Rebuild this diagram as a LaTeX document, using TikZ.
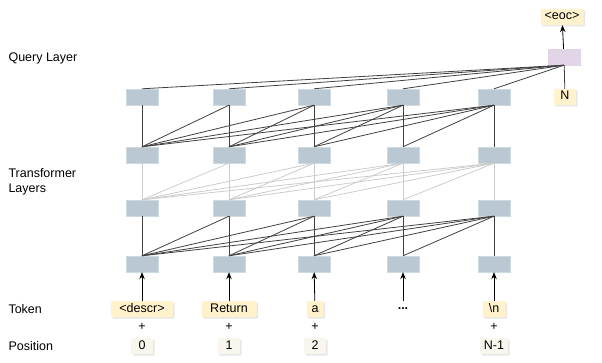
\documentclass[tikz,border=0pt]{standalone}
\usepackage{fontspec}
\setmainfont{Liberation Sans}
\usetikzlibrary{arrows.meta,shadows}

\definecolor{cellgray}{HTML}{BAC8D3}
\definecolor{querypurple}{HTML}{E1D5E7}
\definecolor{tokyellow}{HTML}{FFF2CC}
\definecolor{poscream}{HTML}{F9F7ED}
\definecolor{linedark}{HTML}{404040}
\definecolor{linelight}{HTML}{CCCCCC}

\begin{document}
\begin{tikzpicture}[
  x=1pt, y=-1pt,
  every node/.style={font=\fontsize{12.5}{15}\selectfont},
  cell/.style={rectangle, fill=cellgray, draw=cellgray!70!white, minimum width=32pt, minimum height=16pt, inner sep=0pt},
  query/.style={cell, fill=querypurple, draw=querypurple},
  tokbox/.style={rectangle, fill=tokyellow, minimum height=16pt, inner xsep=3pt, inner ysep=0pt,
    text height=8.5pt, text depth=2.5pt, rounded corners=1pt,
    drop shadow={shadow xshift=1.5pt, shadow yshift=-1.5pt, opacity=0.2}},
  posbox/.style={tokbox, fill=poscream},
  lbl/.style={anchor=west, align=left},
  dark/.style={draw=linedark, line width=0.8pt},
  light/.style={draw=linelight, line width=0.8pt},
  up/.style={-{Stealth[length=7pt,width=5.5pt]}, draw=black, line width=0.8pt}
]
\useasboundingbox (0,0) rectangle (602,363);

% row labels
\node[lbl] (qlbl) at (5,58) {Query Layer};
\node[lbl] (tlbl) at (5,182) {Transformer\\Layers};
\node[lbl] (toklbl) at (5,309) {Token};
\node[lbl] (poslbl) at (5,346) {Position};

% layers
\foreach \x [count=\i] in {142,229,314,403,494} {
  \node[cell] (a\i) at (\x,97) {};
  \node[cell] (b\i) at (\x,155) {};
  \node[cell] (c\i) at (\x,208) {};
  \node[cell] (d\i) at (\x,264) {};
}

\node[query] (q) at (564,57) {};
\node[tokbox, minimum width=43pt] (eoc) at (562,17) {<eoc>};
\node[tokbox, minimum width=22pt] (n) at (565,97) {N};

% tokens and positions
\node[tokbox, minimum width=62pt] (tok1) at (142,309) {<descr>};
\node[tokbox, minimum width=55pt] (tok2) at (229,309) {Return};
\node[tokbox, minimum width=17pt] (tok3) at (315,309) {a};
\node[minimum height=16pt, inner sep=0pt] (tok4) at (403,309) {\textbf{...}};
\node[tokbox, minimum width=23pt] (tok5) at (494,309) {\textbackslash n};

\node (plus1) at (142,327) {+};
\node (plus2) at (229,327) {+};
\node (plus3) at (315,327) {+};
\node (plus5) at (494,327) {+};

\node[posbox, minimum width=22pt] (pos1) at (142,346) {0};
\node[posbox, minimum width=22pt] (pos2) at (229,346) {1};
\node[posbox, minimum width=22pt] (pos3) at (315,346) {2};
\node[posbox, minimum width=28pt] (pos5) at (494,346) {N-1};

% causal connections
\foreach \j in {1,...,5} {
  \foreach \i in {1,...,\j} {
    \draw[dark] (a\j.south) -- (b\i.north);
    \draw[light] (b\j.south) -- (c\i.north);
    \draw[dark] (c\j.south) -- (d\i.north);
  }
  \draw[dark] (q.south) -- (a\j.north);
  \draw[up] (tok\j) -- (d\j);
}
\draw[dark] (n) -- (q);
\draw[up] (q) -- (eoc);
\end{tikzpicture}
\end{document}
